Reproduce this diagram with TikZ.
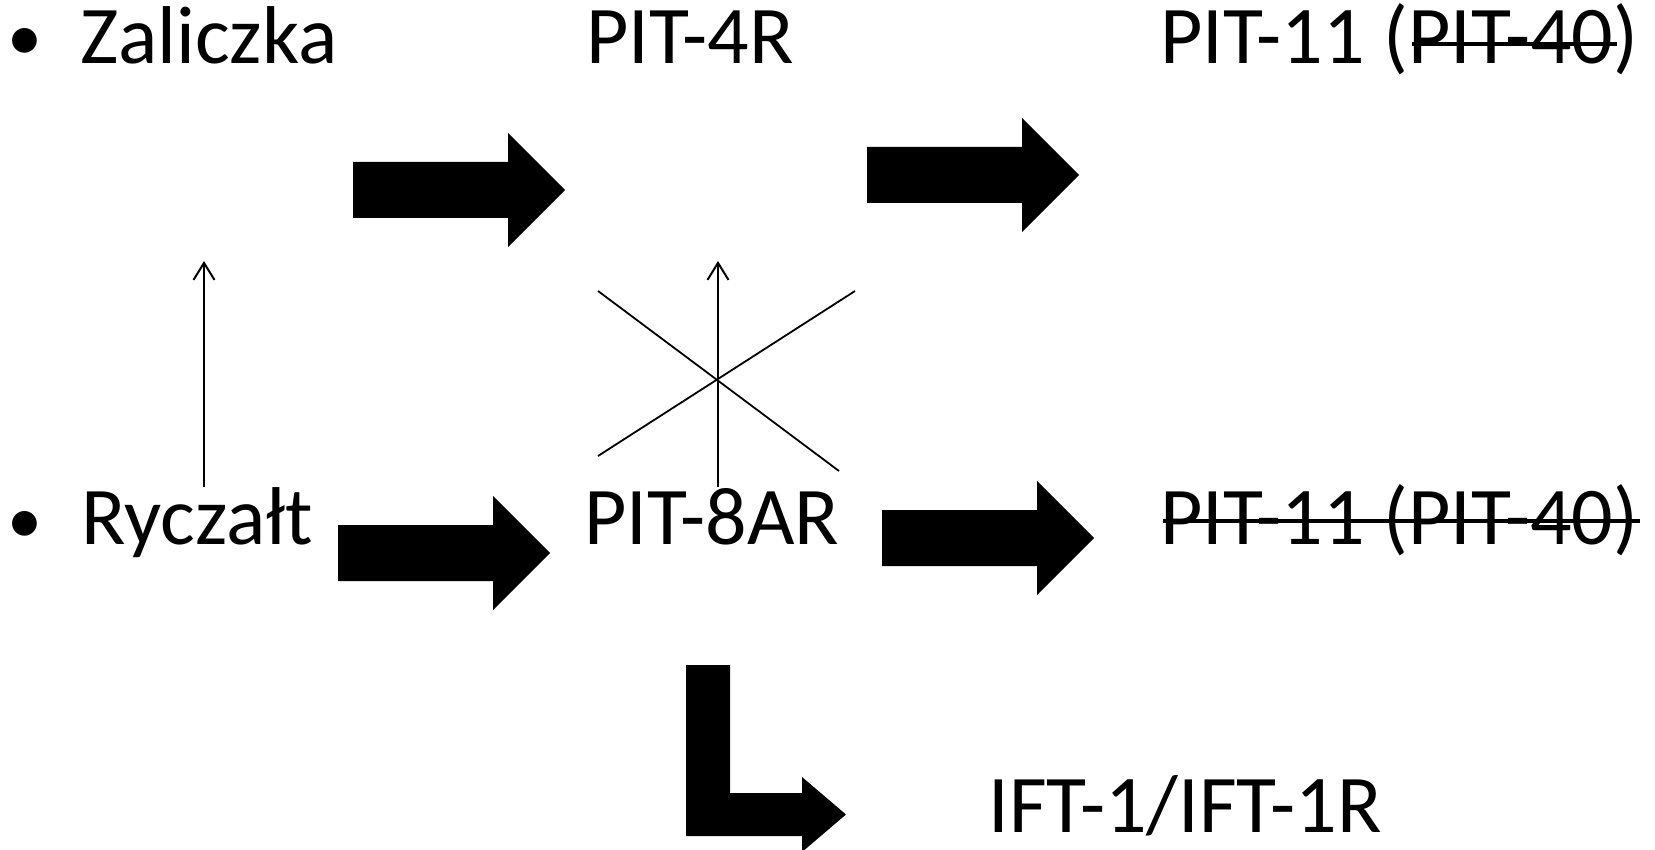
\documentclass[tikz,border=0pt]{standalone}
\usepackage{fontspec}
\setmainfont{Carlito}
\usetikzlibrary{arrows.meta}

\tikzset{
    txt/.style={font=\fontsize{82}{98}\selectfont, inner sep=0pt, anchor=base west},
    bullet/.style={font=\fontsize{70}{84}\selectfont, inner sep=0pt, anchor=base},
    fatarrow/.style={fill=black},
    thinarrow/.style={line width=2pt, -{Straight Barb[length=17pt,width=21pt]}},
    crossline/.style={line width=1.8pt},
    strike/.style={line width=4pt},
}

\begin{document}
\begin{tikzpicture}[x=1pt, y=-1pt]
    \fill[white] (0, 0) rectangle (1655, 850);
    \useasboundingbox (0, 0) rectangle (1655, 850);

    % labels
    \node[bullet] (bul1) at (25, 61) {•};
    \node[txt] (zal) at (80, 64) {Zaliczka};
    \node[txt] (pit4r) at (586, 64) {PIT-4R};
    \node[txt] (pit11a) at (1160, 64) {PIT-11 (PIT-40)};

    \node[bullet] (bul2) at (25, 543) {•};
    \node[txt] (ryc) at (81, 544) {Ryczałt};
    \node[txt] (pit8ar) at (584, 544) {PIT-8AR};
    \node[txt] (pit11b) at (1160, 544) {PIT-11 (PIT-40)};

    \node[txt, anchor=base] (ift) at (1185, 832) {IFT-1/IFT-1R};

    % struck out
    \draw[strike] (1412, 44) -- (1617, 44);
    \draw[strike] (1163, 521) -- (1640, 521);

    % block arrows (left end of shaft, centre line)
    \fill[fatarrow] (353, 190) ++(0, -28) -- ++(155, 0) -- ++(0, -29) -- ++(57, 57) -- ++(-57, 57) -- ++(0, -29) -- ++(-155, 0) -- cycle;
    \fill[fatarrow] (867, 175) ++(0, -28) -- ++(155, 0) -- ++(0, -29) -- ++(57, 57) -- ++(-57, 57) -- ++(0, -29) -- ++(-155, 0) -- cycle;
    \fill[fatarrow] (338, 553) ++(0, -28) -- ++(155, 0) -- ++(0, -29) -- ++(57, 57) -- ++(-57, 57) -- ++(0, -29) -- ++(-155, 0) -- cycle;
    \fill[fatarrow] (882, 538) ++(0, -28) -- ++(155, 0) -- ++(0, -29) -- ++(57, 57) -- ++(-57, 57) -- ++(0, -29) -- ++(-155, 0) -- cycle;

    % bent arrow down to IFT
    \fill[fatarrow] (686, 665) -- (730, 665) -- (730, 793) -- (802, 793) -- (802, 777)
        -- (846, 814.5) -- (802, 852) -- (802, 836) -- (686, 836) -- cycle;

    % thin arrows up
    \coordinate (up1) at (204, 261);
    \coordinate (up2) at (718, 261);
    \draw[thinarrow] (204, 487) -- (up1);
    \draw[thinarrow] (718, 487) -- (up2);

    % cross
    \draw[crossline] (598, 291) -- (839, 471);
    \draw[crossline] (598, 456) -- (855, 291);
\end{tikzpicture}
\end{document}
